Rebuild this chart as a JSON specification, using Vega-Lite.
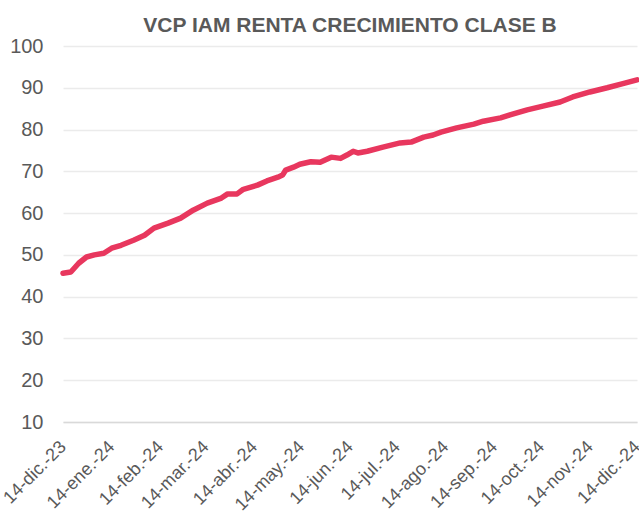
{
  "$schema": "https://vega.github.io/schema/vega-lite/v6.json",
  "width": 574,
  "height": 376,
  "autosize": "none",
  "padding": {"left": 63, "top": 46, "right": 2, "bottom": 90},
  "background": "white",
  "title": {
    "text": "VCP IAM RENTA CRECIMIENTO CLASE B",
    "font": "Liberation Sans",
    "fontSize": 21,
    "fontWeight": "bold",
    "color": "#595959",
    "anchor": "middle",
    "frame": "group",
    "offset": 0
  },
  "config": {"view": {"stroke": null}},
  "data": {
    "values": [
      {"date": "2023-12-14", "vcp": 45.6},
      {"date": "2023-12-19", "vcp": 45.9},
      {"date": "2023-12-24", "vcp": 48.0},
      {"date": "2023-12-29", "vcp": 49.5},
      {"date": "2024-01-03", "vcp": 50.0},
      {"date": "2024-01-09", "vcp": 50.4},
      {"date": "2024-01-14", "vcp": 51.6},
      {"date": "2024-01-20", "vcp": 52.3},
      {"date": "2024-01-28", "vcp": 53.5},
      {"date": "2024-02-04", "vcp": 54.7},
      {"date": "2024-02-10", "vcp": 56.4},
      {"date": "2024-02-19", "vcp": 57.6},
      {"date": "2024-02-27", "vcp": 58.8},
      {"date": "2024-03-06", "vcp": 60.7},
      {"date": "2024-03-15", "vcp": 62.4},
      {"date": "2024-03-24", "vcp": 63.6},
      {"date": "2024-03-28", "vcp": 64.6},
      {"date": "2024-04-03", "vcp": 64.6},
      {"date": "2024-04-07", "vcp": 65.7},
      {"date": "2024-04-16", "vcp": 66.7},
      {"date": "2024-04-22", "vcp": 67.7},
      {"date": "2024-04-29", "vcp": 68.6},
      {"date": "2024-05-02", "vcp": 69.1},
      {"date": "2024-05-04", "vcp": 70.3},
      {"date": "2024-05-09", "vcp": 71.0},
      {"date": "2024-05-13", "vcp": 71.7},
      {"date": "2024-05-20", "vcp": 72.3},
      {"date": "2024-05-26", "vcp": 72.2},
      {"date": "2024-06-02", "vcp": 73.4},
      {"date": "2024-06-08", "vcp": 73.1},
      {"date": "2024-06-12", "vcp": 73.9},
      {"date": "2024-06-16", "vcp": 74.8},
      {"date": "2024-06-19", "vcp": 74.4},
      {"date": "2024-06-25", "vcp": 74.8},
      {"date": "2024-07-05", "vcp": 75.8},
      {"date": "2024-07-16", "vcp": 76.8},
      {"date": "2024-07-23", "vcp": 77.0},
      {"date": "2024-07-31", "vcp": 78.2},
      {"date": "2024-08-06", "vcp": 78.7},
      {"date": "2024-08-11", "vcp": 79.4},
      {"date": "2024-08-21", "vcp": 80.4},
      {"date": "2024-09-01", "vcp": 81.3},
      {"date": "2024-09-07", "vcp": 82.0},
      {"date": "2024-09-18", "vcp": 82.8},
      {"date": "2024-09-24", "vcp": 83.5},
      {"date": "2024-10-05", "vcp": 84.7},
      {"date": "2024-10-15", "vcp": 85.6},
      {"date": "2024-10-26", "vcp": 86.6},
      {"date": "2024-11-03", "vcp": 87.8},
      {"date": "2024-11-14", "vcp": 89.0},
      {"date": "2024-11-25", "vcp": 90.0},
      {"date": "2024-12-05", "vcp": 91.0},
      {"date": "2024-12-14", "vcp": 91.9}
    ]
  },
  "mark": {"type": "line", "color": "#E8375E", "strokeWidth": 5.5, "strokeCap": "round", "strokeJoin": "round"},
  "encoding": {
    "x": {
      "field": "date",
      "type": "temporal",
      "scale": {"domain": [{"year": 2023, "month": 12, "date": 14}, {"year": 2024, "month": 12, "date": 14}], "nice": false},
      "axis": {
        "title": null,
        "grid": false,
        "ticks": false,
        "domainColor": "#D9D9D9",
        "domainWidth": 1.5,
        "values": [
          {"year": 2023, "month": 12, "date": 14},
          {"year": 2024, "month": 1, "date": 14},
          {"year": 2024, "month": 2, "date": 14},
          {"year": 2024, "month": 3, "date": 14},
          {"year": 2024, "month": 4, "date": 14},
          {"year": 2024, "month": 5, "date": 14},
          {"year": 2024, "month": 6, "date": 14},
          {"year": 2024, "month": 7, "date": 14},
          {"year": 2024, "month": 8, "date": 14},
          {"year": 2024, "month": 9, "date": 14},
          {"year": 2024, "month": 10, "date": 14},
          {"year": 2024, "month": 11, "date": 14},
          {"year": 2024, "month": 12, "date": 14}
        ],
        "labelExpr": "'14-' + ['ene.','feb.','mar.','abr.','may.','jun.','jul.','ago.','sep.','oct.','nov.','dic.'][month(datum.value)] + '-' + timeFormat(datum.value, '%y')",
        "labelAngle": -45,
        "labelAlign": "right",
        "labelBaseline": "middle",
        "labelFont": "Liberation Sans",
        "labelFontSize": 18,
        "labelColor": "#595959",
        "labelPadding": 22,
        "labelOverlap": false,
        "labelBound": false,
        "labelFlush": false
      }
    },
    "y": {
      "field": "vcp",
      "type": "quantitative",
      "scale": {"domain": [10, 100], "nice": false, "zero": false},
      "axis": {
        "title": null,
        "values": [10, 20, 30, 40, 50, 60, 70, 80, 90, 100],
        "domain": false,
        "ticks": false,
        "gridColor": "#EBEBEB",
        "gridWidth": 1.5,
        "labelFont": "Liberation Sans",
        "labelFontSize": 20,
        "labelColor": "#595959",
        "labelPadding": 20
      }
    }
  }
}
